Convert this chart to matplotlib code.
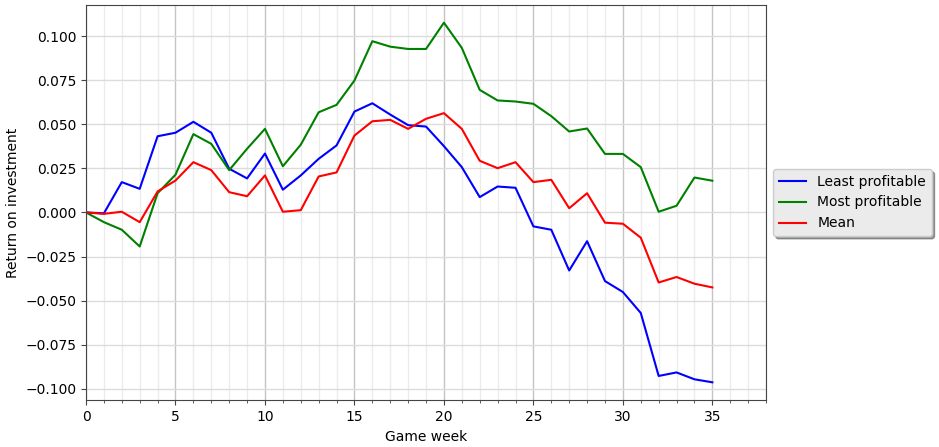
import matplotlib
matplotlib.use("Agg")
import matplotlib.pyplot as plt
from matplotlib.ticker import MultipleLocator

weeks = list(range(36))
least = [0.0, -0.0005, 0.0172, 0.0134, 0.0432, 0.0452, 0.0514, 0.0452, 0.0248, 0.0193,
         0.0334, 0.0129, 0.0210, 0.0304, 0.0380, 0.0572, 0.0619, 0.0555, 0.0495, 0.0487,
         0.0376, 0.0257, 0.0087, 0.0147, 0.0140, -0.0079, -0.0098, -0.0329, -0.0163, -0.0389,
         -0.0451, -0.0570, -0.0927, -0.0907, -0.0946, -0.0963]
most = [0.0, -0.0055, -0.0098, -0.0193, 0.0109, 0.0214, 0.0444, 0.0389, 0.0240, 0.0361,
        0.0474, 0.0262, 0.0384, 0.0568, 0.0610, 0.0748, 0.0971, 0.0940, 0.0927, 0.0927,
        0.1076, 0.0933, 0.0695, 0.0635, 0.0629, 0.0616, 0.0546, 0.0459, 0.0476, 0.0332,
        0.0332, 0.0257, 0.0004, 0.0038, 0.0198, 0.0180]
mean = [0.0, -0.0008, 0.0004, -0.0055, 0.0119, 0.0181, 0.0285, 0.0240, 0.0115, 0.0092,
        0.0210, 0.0004, 0.0013, 0.0204, 0.0227, 0.0436, 0.0517, 0.0525, 0.0474, 0.0531,
        0.0563, 0.0474, 0.0293, 0.0251, 0.0285, 0.0172, 0.0185, 0.0024, 0.0109, -0.0058,
        -0.0064, -0.0143, -0.0397, -0.0366, -0.0404, -0.0425]
labels = ["Least profitable", "Most profitable", "Mean"]

fig = plt.figure(figsize=(9.39, 4.47), dpi=100)
ax = fig.add_axes([0.0916, 0.1045, 0.7242, 0.885])
ax.plot(weeks, least, c="b", label=labels[0])
ax.plot(weeks, most, c="g", label=labels[1])
ax.plot(weeks, mean, c="r", label=labels[2])

ax.set_xlim(0, 38)
ax.xaxis.set_major_locator(MultipleLocator(5))
ax.xaxis.set_minor_locator(MultipleLocator(1))
ax.yaxis.set_major_locator(MultipleLocator(0.025))
ax.grid(which="major", axis="x", color="#c4c4c4", linewidth=1.0)
ax.grid(which="major", axis="y", color="#dcdcdc", linewidth=1.0)
ax.grid(which="minor", axis="x", color="#ececec", linewidth=1.0)
ax.set_axisbelow(True)
for s in ax.spines.values():
    s.set_color("#444444")
ax.tick_params(which="both", color="#444444")

ax.set_xlabel("Game week")
ax.set_ylabel("Return on investment")
leg = ax.legend(loc="center left", bbox_to_anchor=(1.0, 0.5), shadow=True,
                fancybox=True, facecolor="#ebebeb", edgecolor="#cccccc", framealpha=1)

fig.savefig("out.png", dpi=100)
